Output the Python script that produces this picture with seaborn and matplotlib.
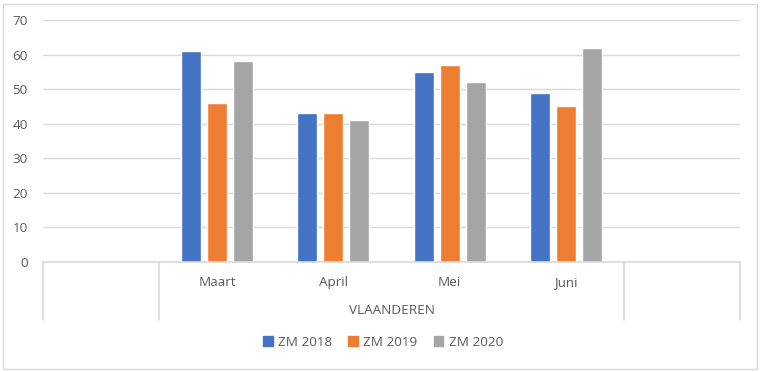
import matplotlib
matplotlib.use("Agg")
import matplotlib.pyplot as plt
import matplotlib.transforms as mtransforms
from matplotlib.patches import Rectangle
import seaborn as sns
import pandas as pd

# --- data ---
months = ["Maart", "April", "Mei", "Juni"]
series = ["ZM 2018", "ZM 2019", "ZM 2020"]
zm_2018 = [61, 43, 55, 49]
zm_2019 = [46, 43, 57, 45]
zm_2020 = [58, 41, 52, 62]
group_label = "VLAANDEREN"
colors = ["#4472C4", "#ED7D31", "#A5A5A5"]

rows = []
for name, vals in zip(series, [zm_2018, zm_2019, zm_2020]):
    for m, v in zip(months, vals):
        rows.append({"maand": m, "reeks": name, "waarde": v})
df = pd.DataFrame(rows)

sns.set_style("white")
plt.rcParams['font.family'] = ['Open Sans', 'DejaVu Sans']
txt = "#595959"
grid_c = "#D9D9D9"
fs = 9.7

fig = plt.figure(figsize=(7.61, 3.72), dpi=100)
ax = fig.add_axes([43 / 761, 1 - 262 / 372, (740 - 43) / 761, (262 - 20) / 372])

sns.barplot(data=df, x="maand", y="waarde", hue="reeks", order=months,
            hue_order=series, palette=colors, width=0.67, gap=0.23,
            saturation=1, ax=ax, legend=False)

ax.set_xlim(-1.5, len(months) + 0.5)
ax.set_ylim(0, 70)
ax.set_yticks(range(0, 71, 10))
ax.yaxis.grid(True, color=grid_c, linewidth=1)
ax.set_axisbelow(True)
for s in ["top", "right", "left"]:
    ax.spines[s].set_visible(False)
ax.spines["bottom"].set_color(grid_c)
ax.spines["bottom"].set_linewidth(1.2)
ax.tick_params(axis="y", length=0, labelsize=fs, labelcolor=txt, pad=11)
ax.tick_params(axis="x", length=0, labelsize=fs, labelcolor=txt, pad=10)
ax.set_xlabel("")
ax.set_ylabel("")

# multi-level category axis
trans = mtransforms.blended_transform_factory(ax.transData, ax.transAxes)
low = -(320 - 262) / 242
for xpos in [-1.5, -0.5, len(months) - 0.5, len(months) + 0.5]:
    ax.plot([xpos, xpos], [0, low], color=grid_c, linewidth=1.2,
            transform=trans, clip_on=False)
ax.text((len(months) - 1) / 2, -(310 - 262) / 242, group_label, transform=trans,
        ha="center", va="center", fontsize=fs, color=txt)

# legend
handles = [Rectangle((0, 0), 1, 1, color=c) for c in colors]
fig.legend(handles, series, loc="center", bbox_to_anchor=(383 / 761, 1 - 342 / 372),
           ncol=3, frameon=False, fontsize=fs, labelcolor=txt, handlelength=0.7,
           handleheight=0.7, handletextpad=0.4, columnspacing=1.2)

# chart border
fig.patches.append(Rectangle((3 / 761, 3 / 372), 754 / 761, 365 / 372,
                             transform=fig.transFigure, fill=False,
                             edgecolor="#D9D9D9", linewidth=1))

fig.savefig("out.png", dpi=100)
